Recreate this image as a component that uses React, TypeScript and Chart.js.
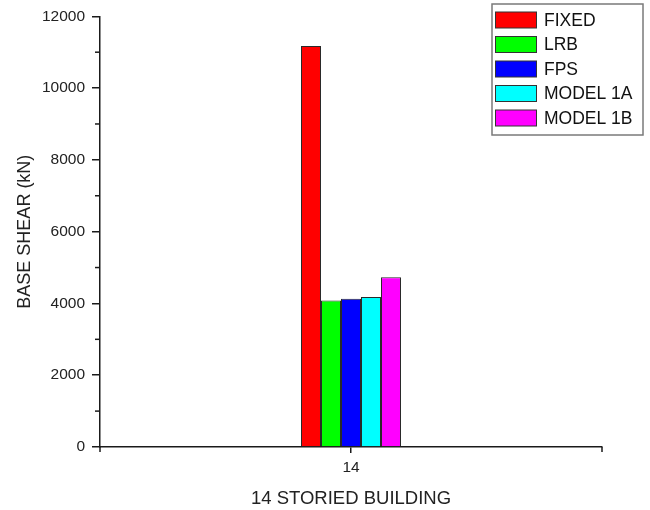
import React, { useEffect, useRef } from "react";
import { Chart, registerables } from "chart.js";

Chart.register(...registerables);

const categories = ["14"];
const seriesNames = ["FIXED", "LRB", "FPS", "MODEL 1A", "MODEL 1B"];
const seriesValues = [[11170], [4080], [4130], [4180], [4730]];
const seriesColors = ["#FF0000", "#00FF00", "#0000FF", "#00FFFF", "#FF00FF"];
const yTitle = "BASE SHEAR (kN)";
const xTitle = "14 STORIED BUILDING";
const yMin = 0;
const yMax = 12000;
const yStep = 2000;

const FONT = "'Liberation Sans', Arial, sans-serif";
const AXIS = "#1a1a1a";

const extrasPlugin = {
  id: "extras",
  afterDraw(chart: any) {
    const ctx = chart.ctx;
    const y = chart.scales.y;
    const area = chart.chartArea;
    ctx.save();
    ctx.strokeStyle = AXIS;
    ctx.lineWidth = 1.5;
    // minor ticks between major ticks
    const ticks = y.ticks.map((t: any) => t.value);
    for (let i = 0; i < ticks.length - 1; i++) {
      const mid = (ticks[i] + ticks[i + 1]) / 2;
      const py = y.getPixelForValue(mid);
      ctx.beginPath();
      ctx.moveTo(area.left - 5, py);
      ctx.lineTo(area.left, py);
      ctx.stroke();
    }
    // end ticks of x axis
    [area.left, area.right].forEach((px: number) => {
      ctx.beginPath();
      ctx.moveTo(px, area.bottom);
      ctx.lineTo(px, area.bottom + 5);
      ctx.stroke();
    });
    // legend box
    const lx = 492, ly = 4, lw = 151, lh = 131;
    ctx.strokeStyle = "#7a7a7a";
    ctx.lineWidth = 1.5;
    ctx.strokeRect(lx, ly, lw, lh);
    ctx.font = `17.5px ${FONT}`;
    ctx.textBaseline = "middle";
    ctx.textAlign = "left";
    chart.data.datasets.forEach((ds: any, i: number) => {
      const cy = 20 + i * 24.5;
      ctx.fillStyle = ds.backgroundColor;
      ctx.fillRect(495.5, cy - 8, 41, 16);
      ctx.strokeStyle = "#333";
      ctx.lineWidth = 1;
      ctx.strokeRect(495.5, cy - 8, 41, 16);
      ctx.fillStyle = "#111";
      ctx.fillText(ds.label, 544, cy + 1);
    });
    ctx.restore();
  },
};

export default function App() {
  const ref = useRef<HTMLCanvasElement>(null);
  useEffect(() => {
    document.body.style.margin = "0";
    const chart = new Chart(ref.current!, {
      type: "bar",
      data: {
        labels: categories,
        datasets: seriesNames.map((name, i) => ({
          label: name,
          data: seriesValues[i],
          backgroundColor: seriesColors[i],
          borderColor: "#2a2a2a",
          borderWidth: 1,
          barPercentage: 1,
          categoryPercentage: 100 / 502,
        })),
      },
      options: {
        animation: false,
        responsive: false,
        layout: { padding: { top: 14, right: 48, left: 0, bottom: 0 } },
        plugins: { legend: { display: false }, tooltip: { enabled: false } },
        scales: {
          x: {
            afterFit: (s: any) => { s.height = 63; },
            grid: {
              offset: false,
              drawOnChartArea: false,
              tickLength: 6,
              color: AXIS,
              lineWidth: 1.5,
            },
            border: { color: AXIS, width: 1.5 },
            ticks: { color: "#222", font: { family: FONT, size: 15.5 }, padding: 5 },
            title: {
              display: true,
              text: xTitle,
              color: "#222",
              font: { family: FONT, size: 18.5 },
              padding: { top: 0, bottom: 0 },
            },
          },
          y: {
            min: yMin,
            max: yMax,
            afterFit: (s: any) => { s.width = 100; },
            grid: {
              drawOnChartArea: false,
              tickLength: 8,
              color: AXIS,
              lineWidth: 1.5,
            },
            border: { color: AXIS, width: 1.5 },
            ticks: {
              stepSize: yStep,
              color: "#222",
              font: { family: FONT, size: 15.5 },
              padding: 7,
              format: { useGrouping: false },
            },
            title: {
              display: true,
              text: yTitle,
              color: "#222",
              font: { family: FONT, size: 18 },
              padding: { top: 14, bottom: 0 },
            },
          },
        },
      },
      plugins: [extrasPlugin],
    });
    return () => chart.destroy();
  }, []);
  return (
    <div style={{ width: 650, height: 510 }}>
      <canvas ref={ref} width={650} height={510} />
    </div>
  );
}
